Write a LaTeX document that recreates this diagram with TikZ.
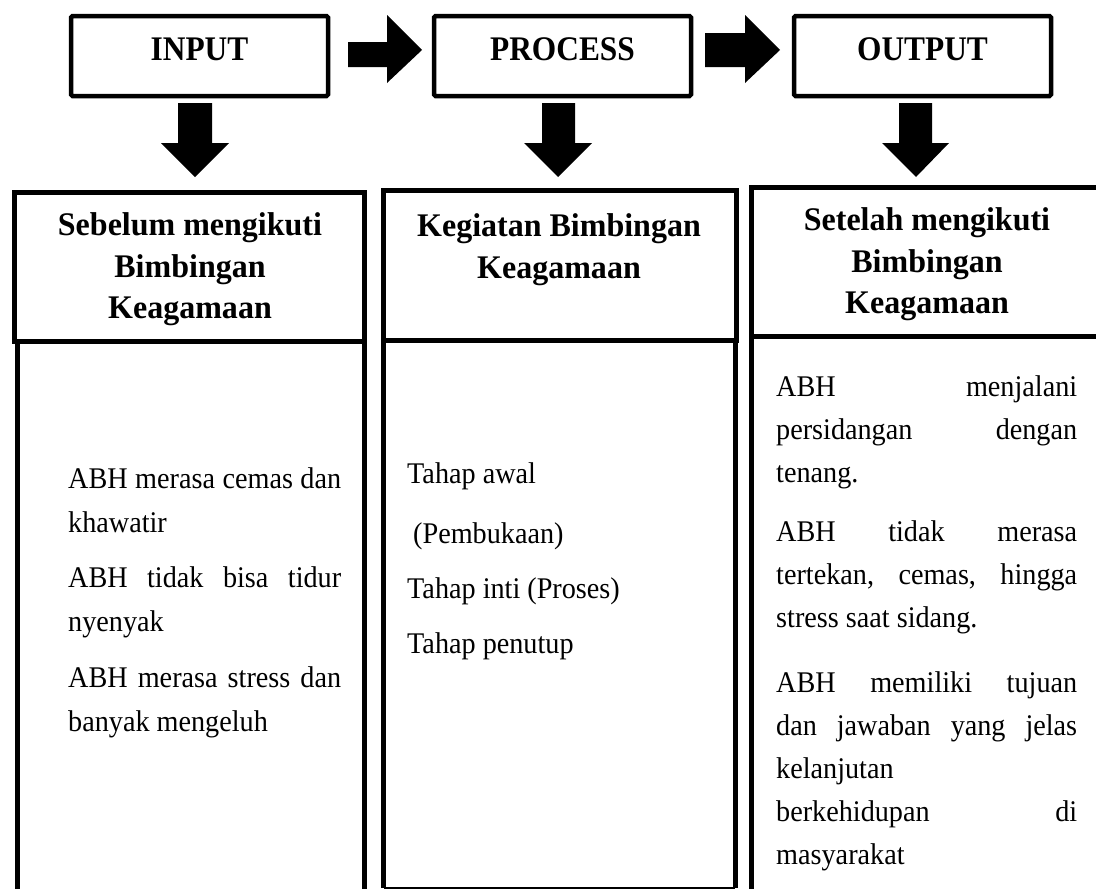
\documentclass[tikz,border=0pt]{standalone}
\usepackage{fontspec}
\setmainfont{Liberation Serif}
\newfontfamily\bodyfont{Liberation Serif}[FakeStretch=0.94]
\newfontfamily\headfont{Liberation Serif}[FakeStretch=0.97]
\newfontfamily\topfont{Liberation Serif}[FakeStretch=0.91]
\begin{document}
\begin{tikzpicture}[x=1pt,y=-1pt,
  topbox/.style={draw, line width=4.5pt, rounded corners=1.5pt, minimum width=257pt, minimum height=80pt, inner sep=0pt},
  boxline/.style={line width=5pt},
  thinline/.style={line width=1.6pt},
  toptext/.style={font=\topfont\bfseries\fontsize{34.5}{38}\selectfont, anchor=base, inner sep=0pt},
  headtext/.style={font=\headfont\bfseries\fontsize{33}{41}\selectfont, anchor=base, inner sep=0pt},
  bodytext/.style={font=\bodyfont\fontsize{30}{43}\selectfont, anchor=base west, inner sep=0pt},
  blockarrow/.style={fill=black, draw=none}
]
\useasboundingbox (0,0) rectangle (1096,889);

% top boxes
\node[topbox] (input) at (199.5,56) {};
\node[topbox] (process) at (562.5,56) {};
\node[topbox] (output) at (922.5,56) {};
\node[toptext] (tinput) at (199.5,60) {INPUT};
\node[toptext] (tprocess) at (562.5,60) {PROCESS};
\node[toptext] (toutput) at (922.5,60) {OUTPUT};

% right block arrows
\fill[blockarrow] (348,42) -- (387,42) -- (387,15) -- (422,50) -- (387,83) -- (387,67) -- (348,67) -- cycle;
\fill[blockarrow] (705,33) -- (745,33) -- (745,15) -- (780,50) -- (745,83) -- (745,67) -- (705,67) -- cycle;

% down block arrows
\fill[blockarrow] (178,103) -- (212,103) -- (212,143) -- (229,143) -- (195,177) -- (161,143) -- (178,143) -- cycle;
\fill[blockarrow] (542,103) -- (575,103) -- (575,143) -- (592,143) -- (558,177) -- (524,143) -- (542,143) -- cycle;
\fill[blockarrow] (899,103) -- (932,103) -- (932,143) -- (949,143) -- (916,177) -- (882,143) -- (899,143) -- cycle;

% header boxes
\draw[boxline] (14.5,192.5) rectangle (364.5,341.5);
\draw[boxline] (383.5,190) rectangle (736,340.5);
\draw[boxline] (1110,187.5) -- (751,187.5) -- (751,336) -- (1110,336);

% content boxes
\draw[boxline] (17,341.5) -- (17,895);
\draw[boxline] (364.5,341.5) -- (364.5,895);
\draw[boxline] (383.5,340.5) -- (383.5,888);
\draw[boxline] (735,340.5) -- (735,888);
\draw[thinline] (383.5,888) -- (735,888);
\draw[boxline] (751,336) -- (751,895);

% headings
\node[headtext] (h1a) at (190,235) {Sebelum mengikuti};
\node[headtext] (h1b) at (190,277) {Bimbingan};
\node[headtext] (h1c) at (190,318) {Keagamaan};
\node[headtext] (h2a) at (559,236) {Kegiatan Bimbingan};
\node[headtext] (h2b) at (559,278) {Keagamaan};
\node[headtext] (h3a) at (927,230) {Setelah mengikuti};
\node[headtext] (h3b) at (927,272) {Bimbingan};
\node[headtext] (h3c) at (927,313) {Keagamaan};

% left body
\node[bodytext] (l1) at (68,488) {\makebox[273pt][s]{ABH merasa cemas dan}};
\node[bodytext] (l2) at (68,532) {khawatir};
\node[bodytext] (l3) at (68,587) {\makebox[273pt][s]{ABH tidak bisa tidur}};
\node[bodytext] (l4) at (68,631) {nyenyak};
\node[bodytext] (l5) at (68,687) {\makebox[273pt][s]{ABH merasa stress dan}};
\node[bodytext] (l6) at (68,731) {banyak mengeluh};

% middle body
\node[bodytext] (m1) at (407,483) {Tahap awal};
\node[bodytext] (m2) at (413,543) {(Pembukaan)};
\node[bodytext] (m3) at (407,598) {Tahap inti (Proses)};
\node[bodytext] (m4) at (407,653) {Tahap penutup};

% right body
\node[bodytext] (r1) at (776,396) {\makebox[301pt][s]{ABH menjalani}};
\node[bodytext] (r2) at (776,439) {\makebox[301pt][s]{persidangan dengan}};
\node[bodytext] (r3) at (776,482) {tenang.};
\node[bodytext] (r4) at (776,541) {\makebox[301pt][s]{ABH tidak merasa}};
\node[bodytext] (r5) at (776,584) {\makebox[301pt][s]{tertekan, cemas, hingga}};
\node[bodytext] (r6) at (776,627) {stress saat sidang.};
\node[bodytext] (r7) at (776,692) {\makebox[301pt][s]{ABH memiliki tujuan}};
\node[bodytext] (r8) at (776,735) {\makebox[301pt][s]{dan jawaban yang jelas}};
\node[bodytext] (r9) at (776,778) {kelanjutan};
\node[bodytext] (r10) at (776,821) {\makebox[301pt][s]{berkehidupan di}};
\node[bodytext] (r11) at (776,864) {masyarakat};
\end{tikzpicture}
\end{document}
